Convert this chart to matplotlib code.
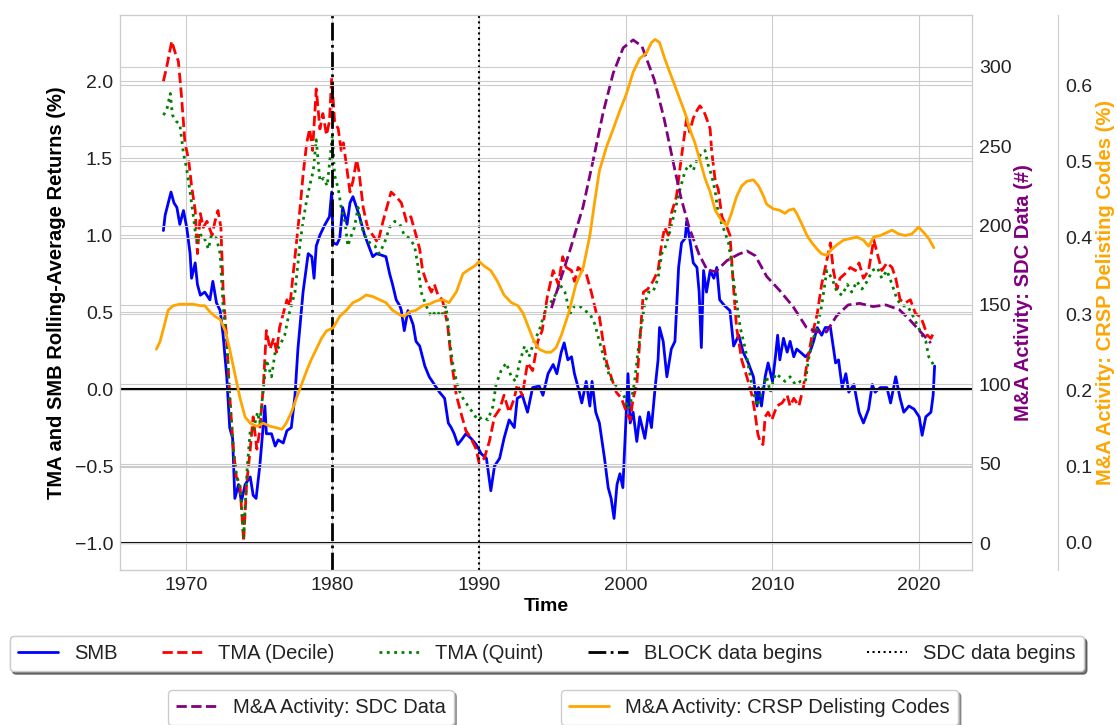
import matplotlib
matplotlib.use("Agg")
import matplotlib.pyplot as plt
import seaborn as sns

sns.set_style("whitegrid")
plt.rcParams["font.family"] = ["Liberation Sans", "DejaVu Sans"]

# (year, value)
smb_pts = [
    (1968.48, 1.03), (1968.6, 1.13), (1969.0, 1.28), (1969.2, 1.21), (1969.4, 1.18),
    (1969.6, 1.07), (1969.85, 1.16), (1970.07, 1.05), (1970.3, 0.88), (1970.4, 0.72),
    (1970.65, 0.82), (1970.8, 0.68), (1971.0, 0.61), (1971.3, 0.63), (1971.65, 0.58),
    (1971.85, 0.70), (1972.1, 0.56), (1972.35, 0.51), (1972.55, 0.35), (1972.8, 0.08),
    (1973.0, -0.25), (1973.2, -0.32), (1973.35, -0.71), (1973.6, -0.62), (1973.8, -0.73),
    (1974.05, -0.62), (1974.4, -0.57), (1974.6, -0.69), (1974.8, -0.71), (1975.05, -0.50),
    (1975.4, -0.11), (1975.5, -0.29), (1975.85, -0.29), (1976.1, -0.37), (1976.3, -0.33),
    (1976.65, -0.35), (1976.9, -0.27), (1977.2, -0.25), (1977.45, -0.04), (1977.65, 0.26),
    (1978.0, 0.63), (1978.35, 0.88), (1978.6, 0.86), (1978.75, 0.72), (1978.9, 0.93),
    (1979.15, 1.00), (1979.5, 1.07), (1979.8, 1.12), (1979.95, 1.28), (1980.05, 0.95),
    (1980.3, 0.94), (1980.5, 0.98), (1980.7, 1.18), (1981.0, 1.07), (1981.2, 1.21),
    (1981.4, 1.25), (1981.65, 1.18), (1981.85, 1.12), (1982.2, 1.00), (1982.55, 0.91),
    (1982.75, 0.86), (1983.0, 0.88), (1983.35, 0.87), (1983.65, 0.86), (1983.9, 0.75),
    (1984.1, 0.68), (1984.35, 0.58), (1984.6, 0.54), (1984.7, 0.51), (1984.9, 0.38),
    (1985.15, 0.51), (1985.5, 0.42), (1985.7, 0.31), (1985.95, 0.28), (1986.3, 0.15),
    (1986.6, 0.08), (1986.95, 0.03), (1987.3, -0.02), (1987.65, -0.06), (1987.9, -0.22),
    (1988.1, -0.25), (1988.3, -0.29), (1988.55, -0.36), (1988.8, -0.33), (1989.1, -0.29),
    (1989.45, -0.32), (1989.8, -0.36), (1990.15, -0.42), (1990.5, -0.45), (1990.8, -0.66),
    (1991.05, -0.50), (1991.4, -0.45), (1991.7, -0.32), (1992.05, -0.20), (1992.4, -0.25),
    (1992.6, -0.06), (1992.95, -0.04), (1993.3, -0.15), (1993.65, 0.01), (1994.1, 0.02),
    (1994.35, -0.04), (1994.7, 0.10), (1995.05, 0.16), (1995.3, 0.10), (1995.6, 0.24),
    (1995.8, 0.30), (1996.05, 0.19), (1996.3, 0.21), (1996.5, 0.10), (1996.75, 0.01),
    (1997.0, -0.09), (1997.3, 0.05), (1997.55, -0.11), (1997.7, 0.05), (1997.95, -0.15),
    (1998.2, -0.22), (1998.55, -0.45), (1998.8, -0.64), (1999.0, -0.71), (1999.2, -0.84),
    (1999.4, -0.62), (1999.6, -0.55), (1999.8, -0.64), (2000.05, -0.11), (2000.15, 0.10),
    (2000.3, -0.22), (2000.5, -0.15), (2000.75, -0.34), (2000.95, -0.18), (2001.3, -0.32),
    (2001.55, -0.15), (2001.75, -0.25), (2002.0, 0.01), (2002.2, 0.19), (2002.3, 0.40),
    (2002.55, 0.31), (2002.8, 0.08), (2003.1, 0.26), (2003.35, 0.31), (2003.6, 0.79),
    (2003.8, 0.95), (2004.05, 0.98), (2004.15, 1.09), (2004.4, 0.95), (2004.6, 0.82),
    (2004.85, 0.79), (2005.0, 0.63), (2005.15, 0.27), (2005.3, 0.77), (2005.5, 0.63),
    (2005.75, 0.77), (2006.0, 0.72), (2006.2, 0.79), (2006.4, 0.58), (2006.75, 0.54),
    (2007.1, 0.51), (2007.35, 0.28), (2007.7, 0.35), (2008.0, 0.24), (2008.35, 0.17),
    (2008.7, 0.08), (2008.95, -0.11), (2009.05, 0.01), (2009.25, -0.11), (2009.5, 0.08),
    (2009.7, 0.17), (2010.0, 0.05), (2010.2, 0.21), (2010.35, 0.35), (2010.5, 0.19),
    (2010.75, 0.33), (2011.0, 0.24), (2011.2, 0.31), (2011.45, 0.21), (2011.65, 0.26),
    (2011.9, 0.24), (2012.25, 0.21), (2012.55, 0.24), (2012.8, 0.31), (2013.05, 0.40),
    (2013.35, 0.35), (2013.6, 0.40), (2013.95, 0.40), (2014.3, 0.17), (2014.5, 0.19),
    (2014.75, 0.01), (2015.0, 0.10), (2015.2, -0.02), (2015.55, 0.03), (2015.9, -0.15),
    (2016.2, -0.22), (2016.55, -0.13), (2016.8, 0.03), (2017.0, -0.02), (2017.35, 0.01),
    (2017.8, 0.01), (2018.05, -0.09), (2018.4, 0.08), (2018.7, -0.06), (2018.95, -0.15),
    (2019.3, -0.11), (2019.65, -0.13), (2020.0, -0.18), (2020.2, -0.30), (2020.45, -0.18),
    (2020.8, -0.15), (2020.95, -0.04), (2021.05, 0.15),
]

tma_decile_pts = [
    (1968.48, 2.00), (1968.7, 2.09), (1969.05, 2.26), (1969.3, 2.18), (1969.5, 2.13),
    (1969.7, 1.92), (1969.95, 1.60), (1970.2, 1.49), (1970.4, 1.32), (1970.65, 1.16),
    (1970.8, 0.88), (1971.0, 1.14), (1971.2, 1.05), (1971.45, 1.09), (1971.8, 1.00),
    (1972.0, 1.09), (1972.2, 1.16), (1972.4, 1.05), (1972.55, 0.65), (1972.8, 0.31),
    (1973.0, -0.04), (1973.25, -0.39), (1973.45, -0.57), (1973.7, -0.62), (1973.95, -0.99),
    (1974.15, -0.62), (1974.4, -0.39), (1974.6, -0.18), (1974.85, -0.39), (1975.05, -0.27),
    (1975.3, 0.03), (1975.5, 0.38), (1975.75, 0.26), (1976.0, 0.33), (1976.2, 0.24),
    (1976.4, 0.40), (1976.65, 0.49), (1976.9, 0.58), (1977.1, 0.54), (1977.35, 0.77),
    (1977.55, 0.95), (1977.8, 1.18), (1978.0, 1.39), (1978.25, 1.60), (1978.45, 1.69),
    (1978.65, 1.55), (1978.9, 1.95), (1979.15, 1.69), (1979.35, 1.79), (1979.6, 1.65),
    (1979.8, 1.74), (1979.95, 2.02), (1980.15, 1.74), (1980.4, 1.69), (1980.6, 1.55),
    (1980.75, 1.60), (1980.95, 1.46), (1981.2, 1.28), (1981.4, 1.35), (1981.65, 1.49),
    (1981.8, 1.42), (1982.1, 1.18), (1982.4, 1.05), (1982.75, 1.00), (1983.1, 0.95),
    (1983.45, 1.09), (1983.65, 1.16), (1984.0, 1.28), (1984.35, 1.25), (1984.7, 1.21),
    (1985.05, 1.09), (1985.35, 1.12), (1985.7, 1.00), (1985.95, 0.91), (1986.15, 0.77),
    (1986.4, 0.70), (1986.75, 0.63), (1986.95, 0.68), (1987.2, 0.61), (1987.5, 0.58),
    (1987.85, 0.42), (1988.1, 0.19), (1988.45, -0.04), (1988.75, -0.15), (1989.1, -0.27),
    (1989.45, -0.32), (1989.8, -0.39), (1990.0, -0.48), (1990.35, -0.45), (1990.7, -0.34),
    (1991.05, -0.18), (1991.4, -0.13), (1991.7, -0.04), (1992.05, -0.15), (1992.4, -0.06),
    (1992.6, 0.03), (1992.95, -0.04), (1993.3, 0.17), (1993.65, 0.12), (1994.0, 0.31),
    (1994.3, 0.38), (1994.65, 0.60), (1995.05, 0.77), (1995.4, 0.68), (1995.7, 0.86),
    (1995.95, 0.79), (1996.3, 0.77), (1996.5, 0.70), (1996.75, 0.79), (1997.0, 0.77),
    (1997.3, 0.75), (1997.65, 0.63), (1998.0, 0.49), (1998.2, 0.47), (1998.45, 0.31),
    (1998.7, 0.17), (1999.0, 0.08), (1999.35, -0.02), (1999.7, -0.06), (2000.05, -0.15),
    (2000.3, -0.20), (2000.5, -0.06), (2000.75, 0.03), (2000.95, 0.31), (2001.2, 0.63),
    (2001.5, 0.65), (2001.85, 0.70), (2002.2, 0.77), (2002.45, 0.95), (2002.65, 1.05),
    (2002.9, 1.00), (2003.1, 1.14), (2003.45, 1.25), (2003.7, 1.44), (2003.9, 1.58),
    (2004.15, 1.76), (2004.35, 1.67), (2004.6, 1.76), (2004.85, 1.81), (2005.05, 1.84),
    (2005.3, 1.81), (2005.5, 1.76), (2005.75, 1.69), (2005.85, 1.55), (2006.1, 1.35),
    (2006.3, 1.30), (2006.55, 1.12), (2006.9, 1.05), (2007.1, 1.00), (2007.35, 0.65),
    (2007.55, 0.40), (2007.9, 0.19), (2008.25, 0.08), (2008.6, -0.04), (2008.8, -0.15),
    (2009.0, -0.29), (2009.15, -0.34), (2009.35, -0.36), (2009.5, -0.18), (2009.7, -0.15),
    (2009.95, -0.20), (2010.3, -0.11), (2010.65, -0.09), (2011.0, -0.04), (2011.2, -0.11),
    (2011.45, -0.06), (2011.8, -0.11), (2012.1, 0.01), (2012.35, 0.17), (2012.7, 0.35),
    (2013.05, 0.49), (2013.35, 0.68), (2013.6, 0.79), (2013.95, 0.95), (2014.15, 0.77),
    (2014.4, 0.65), (2014.6, 0.72), (2014.95, 0.75), (2015.3, 0.79), (2015.65, 0.77),
    (2015.9, 0.82), (2016.2, 0.72), (2016.55, 0.77), (2016.9, 0.97), (2017.15, 0.88),
    (2017.45, 0.77), (2017.8, 0.82), (2018.15, 0.79), (2018.4, 0.72), (2018.7, 0.58),
    (2019.05, 0.56), (2019.4, 0.58), (2019.75, 0.49), (2020.1, 0.47), (2020.3, 0.42),
    (2020.55, 0.35), (2020.8, 0.33), (2021.05, 0.38),
]

tma_quint_pts = [
    (1968.48, 1.78), (1968.7, 1.81), (1968.95, 1.92), (1969.1, 1.78), (1969.35, 1.74),
    (1969.6, 1.72), (1969.85, 1.53), (1970.05, 1.44), (1970.3, 1.28), (1970.5, 1.14),
    (1970.75, 0.95), (1971.0, 1.00), (1971.2, 1.00), (1971.55, 0.91), (1971.75, 1.00),
    (1972.1, 0.98), (1972.35, 0.88), (1972.55, 0.54), (1972.8, 0.31), (1973.0, -0.06),
    (1973.25, -0.39), (1973.45, -0.55), (1973.75, -0.66), (1973.95, -0.96), (1974.2, -0.50),
    (1974.4, -0.27), (1974.6, -0.27), (1974.9, -0.15), (1975.05, -0.22), (1975.3, 0.01),
    (1975.5, 0.19), (1975.85, 0.08), (1976.1, 0.24), (1976.4, 0.28), (1976.75, 0.35),
    (1977.0, 0.47), (1977.2, 0.54), (1977.45, 0.63), (1977.8, 0.95), (1978.0, 1.09),
    (1978.25, 1.23), (1978.45, 1.32), (1978.7, 1.42), (1978.9, 1.62), (1979.15, 1.35),
    (1979.4, 1.37), (1979.65, 1.32), (1979.8, 1.46), (1980.0, 1.65), (1980.15, 1.39),
    (1980.4, 1.30), (1980.6, 1.18), (1980.85, 1.09), (1981.05, 0.93), (1981.3, 1.00),
    (1981.5, 1.05), (1981.75, 1.18), (1982.0, 1.05), (1982.2, 1.00), (1982.55, 0.95),
    (1982.9, 0.93), (1983.2, 0.88), (1983.55, 0.95), (1983.9, 1.05), (1984.25, 1.09),
    (1984.6, 1.07), (1984.9, 1.00), (1985.25, 0.98), (1985.6, 0.93), (1985.85, 0.79),
    (1986.05, 0.63), (1986.4, 0.54), (1986.75, 0.47), (1987.1, 0.51), (1987.4, 0.47),
    (1987.75, 0.54), (1988.0, 0.31), (1988.2, 0.17), (1988.55, 0.01), (1988.9, -0.06),
    (1989.25, -0.11), (1989.55, -0.15), (1989.9, -0.20), (1990.25, -0.18), (1990.6, -0.20),
    (1990.95, -0.11), (1991.15, 0.03), (1991.5, 0.12), (1991.85, 0.17), (1992.2, 0.08),
    (1992.5, 0.05), (1992.75, 0.17), (1993.1, 0.28), (1993.4, 0.21), (1993.75, 0.31),
    (1994.1, 0.38), (1994.6, 0.54), (1995.05, 0.58), (1995.5, 0.68), (1995.85, 0.63),
    (1996.2, 0.49), (1996.5, 0.54), (1996.85, 0.54), (1997.2, 0.51), (1997.55, 0.49),
    (1997.9, 0.42), (1998.2, 0.31), (1998.55, 0.19), (1998.9, 0.08), (1999.25, 0.03),
    (1999.6, 0.01), (1999.95, -0.06), (2000.15, -0.13), (2000.4, -0.06), (2000.6, 0.05),
    (2000.85, 0.26), (2001.05, 0.40), (2001.3, 0.56), (2001.55, 0.63), (2001.85, 0.63),
    (2002.2, 0.72), (2002.45, 0.88), (2002.65, 0.91), (2003.0, 1.02), (2003.35, 1.16),
    (2003.7, 1.30), (2004.05, 1.42), (2004.35, 1.46), (2004.6, 1.42), (2004.85, 1.49),
    (2005.15, 1.53), (2005.4, 1.55), (2005.6, 1.46), (2005.85, 1.39), (2006.1, 1.28),
    (2006.3, 1.14), (2006.55, 1.07), (2006.75, 1.02), (2007.0, 0.95), (2007.2, 0.82),
    (2007.45, 0.63), (2007.8, 0.40), (2008.15, 0.26), (2008.45, 0.10), (2008.7, -0.02),
    (2008.95, -0.11), (2009.15, -0.06), (2009.4, 0.03), (2009.6, 0.08), (2009.85, -0.02),
    (2010.2, 0.10), (2010.5, 0.08), (2010.85, 0.05), (2011.2, 0.08), (2011.55, 0.03),
    (2011.9, 0.05), (2012.25, 0.05), (2012.45, 0.19), (2012.7, 0.31), (2013.05, 0.40),
    (2013.35, 0.54), (2013.7, 0.77), (2014.05, 0.72), (2014.4, 0.63), (2014.75, 0.61),
    (2015.1, 0.68), (2015.4, 0.63), (2015.75, 0.70), (2016.1, 0.65), (2016.45, 0.70),
    (2016.8, 0.77), (2017.15, 0.79), (2017.45, 0.72), (2017.8, 0.77), (2018.15, 0.68),
    (2018.5, 0.58), (2018.85, 0.54), (2019.2, 0.54), (2019.5, 0.49), (2019.85, 0.42),
    (2020.2, 0.35), (2020.45, 0.31), (2020.65, 0.21), (2020.9, 0.17), (2021.0, 0.15),
]

# SDC deal counts (#)
sdc_pts = [
    (1994.93, 148), (1996.18, 184), (1997.09, 212), (1997.77, 241), (1998.45, 271),
    (1999.14, 296), (1999.82, 312), (2000.5, 317), (2001.1, 313), (2001.94, 292),
    (2002.62, 267), (2003.3, 237), (2003.75, 218), (2004.31, 199), (2004.99, 182),
    (2005.55, 172), (2006.12, 171), (2006.9, 178), (2007.7, 182), (2008.26, 184),
    (2008.83, 181), (2009.6, 168), (2010.5, 159), (2011.4, 149), (2012.3, 136),
    (2013.0, 133), (2013.68, 133), (2014.36, 143), (2015.15, 150), (2015.94, 151),
    (2016.84, 149), (2017.74, 150), (2018.65, 147), (2019.32, 141), (2020.0, 134),
    (2020.79, 126),
]

# CRSP delisting share (%)
crsp_pts = [
    (1968.0, 0.254), (1968.25, 0.264), (1968.5, 0.282), (1968.8, 0.305), (1969.15, 0.311),
    (1969.6, 0.313), (1970.05, 0.313), (1970.5, 0.313), (1971.0, 0.311), (1971.3, 0.311),
    (1971.65, 0.303), (1972.0, 0.297), (1972.35, 0.293), (1972.7, 0.278), (1973.0, 0.254),
    (1973.35, 0.222), (1973.7, 0.190), (1974.05, 0.165), (1974.4, 0.157), (1974.85, 0.153),
    (1975.3, 0.157), (1975.75, 0.153), (1976.2, 0.151), (1976.55, 0.149), (1976.85, 0.157),
    (1977.2, 0.171), (1977.55, 0.190), (1977.9, 0.208), (1978.25, 0.226), (1978.55, 0.240),
    (1978.9, 0.254), (1979.25, 0.268), (1979.6, 0.278), (1980.05, 0.282), (1980.5, 0.297),
    (1980.95, 0.305), (1981.4, 0.315), (1981.85, 0.319), (1982.3, 0.325), (1982.75, 0.323),
    (1983.2, 0.319), (1983.65, 0.315), (1984.1, 0.305), (1984.6, 0.299), (1984.9, 0.297),
    (1985.25, 0.303), (1985.7, 0.305), (1986.15, 0.311), (1986.6, 0.313), (1987.05, 0.317),
    (1987.5, 0.319), (1987.95, 0.315), (1988.45, 0.329), (1988.9, 0.353), (1989.35, 0.359),
    (1989.7, 0.363), (1990.0, 0.369), (1990.35, 0.363), (1990.8, 0.357), (1991.25, 0.343),
    (1991.7, 0.325), (1992.2, 0.315), (1992.65, 0.311), (1993.0, 0.301), (1993.3, 0.286),
    (1993.75, 0.264), (1994.1, 0.254), (1994.55, 0.250), (1994.9, 0.250), (1995.25, 0.256),
    (1995.6, 0.272), (1996.1, 0.301), (1996.6, 0.339), (1997.1, 0.361), (1997.55, 0.403),
    (1997.9, 0.450), (1998.2, 0.488), (1998.7, 0.520), (1999.15, 0.543), (1999.6, 0.567),
    (2000.05, 0.589), (2000.5, 0.617), (2000.95, 0.635), (2001.4, 0.642), (2001.75, 0.656),
    (2002.0, 0.660), (2002.3, 0.656), (2002.65, 0.635), (2003.0, 0.617), (2003.35, 0.599),
    (2003.7, 0.581), (2004.05, 0.563), (2004.35, 0.543), (2004.7, 0.525), (2005.05, 0.502),
    (2005.4, 0.478), (2005.75, 0.460), (2006.1, 0.436), (2006.55, 0.422), (2006.9, 0.416),
    (2007.2, 0.432), (2007.55, 0.454), (2007.9, 0.468), (2008.25, 0.474), (2008.7, 0.476),
    (2009.05, 0.468), (2009.4, 0.454), (2009.6, 0.444), (2010.05, 0.438), (2010.5, 0.436),
    (2010.85, 0.432), (2011.1, 0.436), (2011.45, 0.438), (2011.65, 0.432), (2012.0, 0.418),
    (2012.35, 0.403), (2012.7, 0.393), (2013.05, 0.385), (2013.35, 0.379), (2013.7, 0.377),
    (2014.05, 0.385), (2014.4, 0.391), (2014.85, 0.397), (2015.3, 0.399), (2015.75, 0.401),
    (2016.2, 0.397), (2016.55, 0.389), (2016.9, 0.401), (2017.35, 0.403), (2017.8, 0.407),
    (2018.15, 0.410), (2018.6, 0.405), (2019.05, 0.403), (2019.5, 0.405), (2019.95, 0.414),
    (2020.3, 0.407), (2020.65, 0.399), (2021.0, 0.387),
]

block_start = 1980
sdc_start = 1990


def xy(pts):
    return [p[0] for p in pts], [p[1] for p in pts]


fig = plt.figure(figsize=(11.17, 7.25), dpi=100)
ax = fig.add_axes([0.1074, 0.2138, 0.7628, 0.7655])
ax2 = ax.twinx()
ax3 = ax.twinx()
ax3.spines["right"].set_position(("axes", 1.101))

l1, = ax.plot(*xy(smb_pts), color="blue", lw=2, label="SMB")
l2, = ax.plot(*xy(tma_decile_pts), color="red", ls="--", lw=2, label="TMA (Decile)")
l3, = ax.plot(*xy(tma_quint_pts), color="green", ls=":", lw=2, label="TMA (Quint)")
l4 = ax.axvline(block_start, color="black", ls="-.", lw=2, label="BLOCK data begins")
l5 = ax.axvline(sdc_start, color="black", ls=":", lw=1.5, label="SDC data begins")
ax.axhline(0, color="black", lw=1.5)
ax.axhline(-1, color="black", lw=1.5)

l6, = ax2.plot(*xy(sdc_pts), color="purple", ls="--", lw=2, label="M&A Activity: SDC Data")
l7, = ax3.plot(*xy(crsp_pts), color="orange", lw=2, label="M&A Activity: CRSP Delisting Codes")

ax.set_xlim(1965.52, 2023.6)
ax.set_ylim(-1.175, 2.43)
ax2.set_ylim(-17, 332.7)
ax3.set_ylim(-0.0354, 0.692)
ax.set_yticks([-1.0, -0.5, 0.0, 0.5, 1.0, 1.5, 2.0])
ax.set_xticks([1970, 1980, 1990, 2000, 2010, 2020])
ax2.set_yticks([0, 50, 100, 150, 200, 250, 300])
ax3.set_yticks([0.0, 0.1, 0.2, 0.3, 0.4, 0.5, 0.6])

for a in (ax, ax2, ax3):
    a.tick_params(labelsize=14, colors="#222222", length=0, pad=5)

ax.set_xlabel("Time", fontsize=14, fontweight="bold", color="black", labelpad=3)
ax.set_ylabel("TMA and SMB Rolling-Average Returns (%)", fontsize=14.5,
              fontweight="bold", color="black", labelpad=6)
ax2.set_ylabel("M&A Activity: SDC Data (#)", fontsize=14.5, fontweight="bold",
               color="purple", labelpad=2)
ax3.set_ylabel("M&A Activity: CRSP Delisting Codes (%)", fontsize=14.5,
               fontweight="bold", color="orange", labelpad=3)

leg1 = ax.legend(handles=[l1, l2, l3, l4, l5], loc="upper center",
                 bbox_to_anchor=(0.501, -0.101), ncol=5, fontsize=14.5,
                 frameon=True, fancybox=True, shadow=True, columnspacing=2.2)
ax.add_artist(leg1)
leg2 = ax2.legend(handles=[l6], loc="upper center", bbox_to_anchor=(0.224, -0.198),
                  fontsize=14.5, frameon=True, fancybox=True, shadow=True)
leg3 = ax3.legend(handles=[l7], loc="upper center", bbox_to_anchor=(0.7506, -0.198),
                  fontsize=14.5, frameon=True, fancybox=True, shadow=True)
for lg in (leg1, leg2, leg3):
    for t in lg.get_texts():
        t.set_color("#222222")

fig.savefig("out.png", dpi=100)
